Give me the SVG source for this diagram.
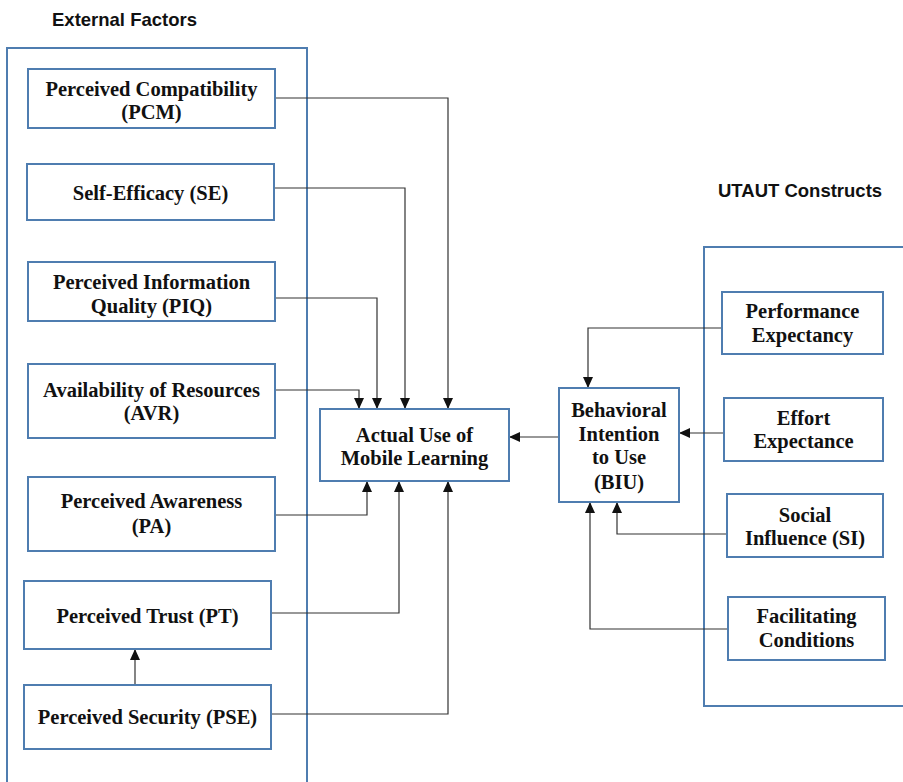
<svg xmlns="http://www.w3.org/2000/svg" width="903" height="782" viewBox="0 0 903 782">
<style>
.frame{fill:none;stroke:#4f7db0;stroke-width:2}
.box{fill:#fff;stroke:#4f7db0;stroke-width:2}
.t{font-family:"Liberation Serif","Times New Roman",serif;font-weight:bold;font-size:20.5px;fill:#111;text-anchor:middle}
.h{font-family:"Liberation Sans",Arial,sans-serif;font-weight:bold;font-size:18.5px;fill:#111}
.c{fill:none;stroke:#333;stroke-width:1.2;marker-end:url(#ah)}
</style>
<defs>
<marker id="ah" markerUnits="userSpaceOnUse" markerWidth="12" markerHeight="10" refX="11" refY="5" orient="auto">
<path d="M0,0 L11,5 L0,10 Z" fill="#111"/>
</marker>
</defs>
<rect width="903" height="782" fill="#fff"/>
<text class="h" x="52" y="26">External Factors</text>
<text class="h" x="718" y="197">UTAUT Constructs</text>
<rect class="frame" x="7" y="48" width="300" height="740"/>
<rect class="frame" x="704" y="247" width="210" height="459"/>
<g id="connectors">
<path class="c" d="M275,98 H448 V409"/>
<path class="c" d="M274,188 H405 V409"/>
<path class="c" d="M275,298 H377 V409"/>
<path class="c" d="M275,390 H359 V409"/>
<path class="c" d="M275,515 H367 V481"/>
<path class="c" d="M271,613 H399 V481"/>
<path class="c" d="M271,714 H448 V481"/>
<path class="c" d="M135,685 V649"/>
<path class="c" d="M559,437 H509"/>
<path class="c" d="M722,328 H588 V388"/>
<path class="c" d="M724,433 H679"/>
<path class="c" d="M727,534 H617 V502"/>
<path class="c" d="M728,629 H590 V502"/>
</g>
<g id="PCM"><rect class="box" x="28" y="69" width="247" height="59"/><text class="t" x="151.5" y="96">Perceived Compatibility</text><text class="t" x="151.5" y="119">(PCM)</text></g>
<g id="SE"><rect class="box" x="27" y="164" width="247" height="56"/><text class="t" x="150.5" y="200">Self-Efficacy (SE)</text></g>
<g id="PIQ"><rect class="box" x="28" y="262" width="247" height="59"/><text class="t" x="151.5" y="289">Perceived Information</text><text class="t" x="151.5" y="313">Quality (PIQ)</text></g>
<g id="AVR"><rect class="box" x="28" y="364" width="247" height="74"/><text class="t" x="151.5" y="397">Availability of Resources</text><text class="t" x="151.5" y="420">(AVR)</text></g>
<g id="PA"><rect class="box" x="28" y="477" width="247" height="74"/><text class="t" x="151.5" y="508">Perceived Awareness</text><text class="t" x="151.5" y="533">(PA)</text></g>
<g id="PT"><rect class="box" x="24" y="581" width="247" height="68"/><text class="t" x="147.5" y="623">Perceived Trust (PT)</text></g>
<g id="PSE"><rect class="box" x="24" y="685" width="247" height="64"/><text class="t" x="147.5" y="724">Perceived Security (PSE)</text></g>
<g id="AU"><rect class="box" x="320" y="409" width="189" height="72"/><text class="t" x="414.5" y="442">Actual Use of</text><text class="t" x="414.5" y="465">Mobile Learning</text></g>
<g id="BIU"><rect class="box" x="559" y="388" width="120" height="114"/><text class="t" x="619" y="417">Behavioral</text><text class="t" x="619" y="441">Intention</text><text class="t" x="619" y="464">to Use</text><text class="t" x="619" y="489">(BIU)</text></g>
<g id="PE"><rect class="box" x="722" y="292" width="161" height="62"/><text class="t" x="802.5" y="318">Performance</text><text class="t" x="802.5" y="342">Expectancy</text></g>
<g id="EE"><rect class="box" x="724" y="398" width="159" height="63"/><text class="t" x="803.5" y="425">Effort</text><text class="t" x="803.5" y="448">Expectance</text></g>
<g id="SI"><rect class="box" x="727" y="494" width="156" height="63"/><text class="t" x="805" y="522">Social</text><text class="t" x="805" y="545">Influence (SI)</text></g>
<g id="FC"><rect class="box" x="728" y="597" width="157" height="63"/><text class="t" x="806.5" y="623">Facilitating</text><text class="t" x="806.5" y="647">Conditions</text></g>
</svg>
